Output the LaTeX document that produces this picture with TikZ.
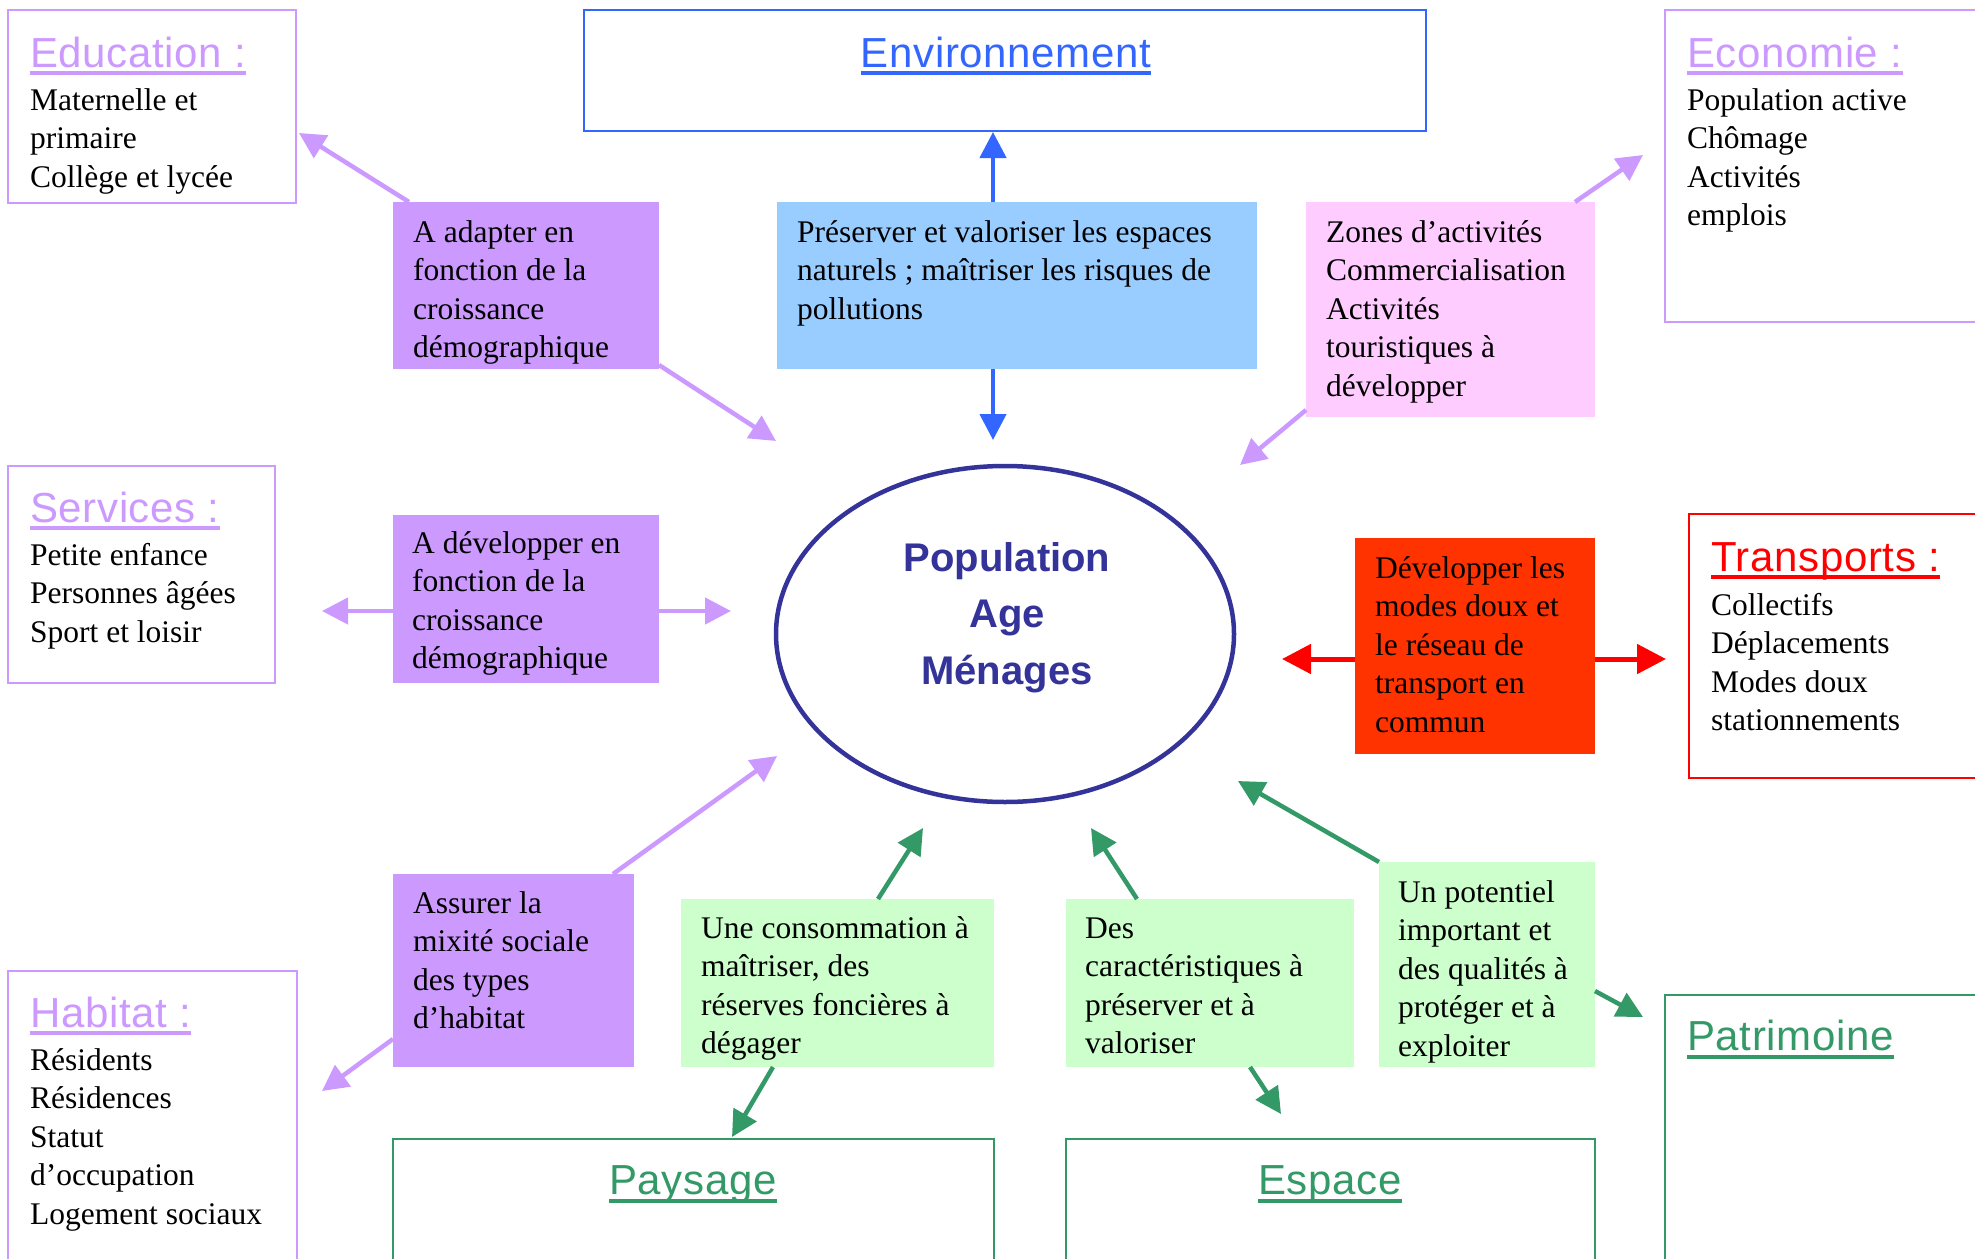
\documentclass[tikz,border=0pt]{standalone}
\usepackage{fontspec}
\setmainfont{Liberation Serif}
\newfontfamily\ttlfont[LetterSpace=1.5]{Liberation Sans}
\newfontfamily\popfont{Liberation Sans}
\usetikzlibrary{arrows.meta,shapes.geometric}
\definecolor{lilac}{HTML}{CC99FF}
\definecolor{envblue}{HTML}{3366FF}
\definecolor{skyfill}{HTML}{99CCFF}
\definecolor{pinkfill}{HTML}{FFCCFF}
\definecolor{redfill}{HTML}{FF3300}
\definecolor{tred}{HTML}{FF0000}
\definecolor{sgreen}{HTML}{339966}
\definecolor{gfill}{HTML}{CCFFCC}
\definecolor{navy}{HTML}{333399}
\newcommand\bxt[1]{\begin{tabular}[t]{@{}l@{}}#1\end{tabular}}
\newcommand\bxc[1]{\begin{tabular}[t]{@{}c@{}}#1\end{tabular}}
\begin{document}
\begin{tikzpicture}[x=1pt,y=-1pt,
  frame/.style={draw=#1, line width=2.5pt, fill=white, anchor=north west, inner sep=0pt, outer sep=0pt},
  fillbox/.style={fill=#1, anchor=north west, inner sep=0pt, outer sep=0pt},
  body/.style={anchor=base west, inner sep=0pt, text=black, font=\fontsize{31.5}{38.5}\selectfont},
  ttl/.style={anchor=base west, inner sep=0pt, text=#1, font=\ttlfont\fontsize{42}{50}\selectfont},
  ttlc/.style={anchor=base, inner sep=0pt, text=#1, font=\ttlfont\fontsize{42}{50}\selectfont},
  uline/.style={draw=#1, line width=3.5pt},
  conn/.style={draw=#1, line width=4.5pt, -{Triangle[length=26pt,width=26pt]}},
  rconn/.style={draw=#1, line width=5pt, -{Triangle[length=29pt,width=29pt]}}
]
\path[use as bounding box] (0,0) rectangle (1975,1258);
\clip (0,0) rectangle (1975,1258);
\fill[white] (0,0) rectangle (1975,1258);

% ---------- boxes ----------
\node[frame=lilac, minimum width=288pt, minimum height=193pt] (educ) at (8,10) {};
\node[frame=envblue, minimum width=842pt, minimum height=121pt] (env) at (584,10) {};
\node[frame=lilac, minimum width=340pt, minimum height=312pt] (eco) at (1665,10) {};
\node[fillbox=lilac, minimum width=266pt, minimum height=167pt] (adapt) at (393,202) {};
\node[fillbox=skyfill, minimum width=480pt, minimum height=167pt] (blue) at (777,202) {};
\node[fillbox=pinkfill, minimum width=289pt, minimum height=215pt] (pink) at (1306,202) {};
\node[frame=lilac, minimum width=267pt, minimum height=217pt] (serv) at (8,466) {};
\node[fillbox=lilac, minimum width=266pt, minimum height=168pt] (dev) at (393,515) {};
\node[draw=navy, line width=4.5pt, ellipse, inner sep=0pt, minimum width=458pt, minimum height=336pt] (pop) at (1005,634) {};
\node[fillbox=redfill, minimum width=240pt, minimum height=216pt] (red) at (1355,538) {};
\node[frame=tred, minimum width=310pt, minimum height=264pt] (trans) at (1689,514) {};
\node[fillbox=lilac, minimum width=241pt, minimum height=193pt] (assur) at (393,874) {};
\node[fillbox=gfill, minimum width=313pt, minimum height=168pt] (gone) at (681,899) {};
\node[fillbox=gfill, minimum width=288pt, minimum height=168pt] (gtwo) at (1066,899) {};
\node[fillbox=gfill, minimum width=216pt, minimum height=205pt] (gthree) at (1379,862) {};
\node[frame=lilac, minimum width=289pt, minimum height=310pt] (hab) at (8,971) {};
\node[frame=sgreen, minimum width=601pt, minimum height=150pt] (pays) at (393,1139) {};
\node[frame=sgreen, minimum width=529pt, minimum height=150pt] (esp) at (1066,1139) {};
\node[frame=sgreen, minimum width=340pt, minimum height=300pt] (patr) at (1665,995) {};

% ---------- titles ----------
\node[ttl=lilac] (tEduc) at (30,67) {Education :};
\draw[uline=lilac] ([yshift=-6pt]tEduc.base west) -- ([yshift=-6pt]tEduc.base east);
\node[ttlc=envblue] (tEnv) at (1006,67) {Environnement};
\draw[uline=envblue] ([yshift=-6pt]tEnv.base west) -- ([yshift=-6pt]tEnv.base east);
\node[ttl=lilac] (tEco) at (1687,67) {Economie :};
\draw[uline=lilac] ([yshift=-6pt]tEco.base west) -- ([yshift=-6pt]tEco.base east);
\node[ttl=lilac] (tServ) at (30,522) {Services :};
\draw[uline=lilac] ([yshift=-6pt]tServ.base west) -- ([yshift=-6pt]tServ.base east);
\node[ttl=tred] (tTrans) at (1711,571) {Transports :};
\draw[uline=tred] ([yshift=-6pt]tTrans.base west) -- ([yshift=-6pt]tTrans.base east);
\node[ttl=lilac] (tHab) at (30,1027) {Habitat :};
\draw[uline=lilac] ([yshift=-6pt]tHab.base west) -- ([yshift=-6pt]tHab.base east);
\node[ttlc=sgreen] (tPays) at (693,1194) {Paysage};
\draw[uline=sgreen] ([yshift=-7pt]tPays.base west) -- ([yshift=-7pt]tPays.base east);
\node[ttlc=sgreen] (tEsp) at (1330,1194) {Espace};
\draw[uline=sgreen] ([yshift=-7pt]tEsp.base west) -- ([yshift=-7pt]tEsp.base east);
\node[ttl=sgreen] (tPatr) at (1687,1050) {Patrimoine};
\draw[uline=sgreen] ([yshift=-7pt]tPatr.base west) -- ([yshift=-7pt]tPatr.base east);

% ---------- body texts ----------
\node[body] (xEduc) at (30,110) {\bxt{Maternelle et\\primaire\\Collège et lycée}};
\node[body] (xEco) at (1687,110) {\bxt{Population active\\Chômage\\Activités\\emplois}};
\node[body] (xAdapt) at (413,242) {\bxt{A adapter en\\fonction de la\\croissance\\démographique}};
\node[body] (xBlue) at (797,242) {\bxt{Préserver et valoriser les espaces\\naturels ; maîtriser les risques de\\pollutions}};
\node[body] (xPink) at (1326,242) {\bxt{Zones d’activités\\Commercialisation\\Activités\\touristiques à\\développer}};
\node[body] (xServ) at (30,565) {\bxt{Petite enfance\\Personnes âgées\\Sport et loisir}};
\node[body] (xDev) at (412,553) {\bxt{A développer en\\fonction de la\\croissance\\démographique}};
\node[body] (xRed) at (1375,578) {\bxt{Développer les\\modes doux et\\le réseau de\\transport en\\commun}};
\node[body] (xTrans) at (1711,615) {\bxt{Collectifs\\Déplacements\\Modes doux\\stationnements}};
\node[body] (xAssur) at (413,913) {\bxt{Assurer la\\mixité sociale\\des types\\d’habitat}};
\node[body] (xHab) at (30,1070) {\bxt{Résidents\\Résidences\\Statut\\d’occupation\\Logement sociaux}};
\node[body] (xGone) at (701,938) {\bxt{Une consommation à\\maîtriser, des\\réserves foncières à\\dégager}};
\node[body] (xGtwo) at (1085,938) {\bxt{Des\\caractéristiques à\\préserver et à\\valoriser}};
\node[body] (xGthree) at (1398,902) {\bxt{Un potentiel\\important et\\des qualités à\\protéger et à\\exploiter}};

\node[anchor=base, inner sep=0pt, text=navy, font=\popfont\bfseries\fontsize{40}{56.5}\selectfont] (xPop) at (1007,571) {\bxc{Population\\Age\\Ménages}};

% ---------- arrow tips ----------
\coordinate (tipEduc) at (299,133);
\coordinate (tipAdaptPop) at (776,441);
\coordinate (tipEnv) at (993,132);
\coordinate (tipBluePop) at (993,440);
\coordinate (tipEco) at (1643,155);
\coordinate (tipPinkPop) at (1240,465);
\coordinate (tipServ) at (322,611);
\coordinate (tipDevPop) at (731,611);
\coordinate (tipAssurPop) at (777,756);
\coordinate (tipHab) at (322,1091);
\coordinate (tipRedPop) at (1282,659);
\coordinate (tipTrans) at (1666,659);
\coordinate (tipGonePop) at (923,828);
\coordinate (tipPays) at (732,1137);
\coordinate (tipGtwoPop) at (1091,828);
\coordinate (tipEsp) at (1281,1114);
\coordinate (tipGthreePop) at (1238,781);
\coordinate (tipPatr) at (1643,1017);

% ---------- connectors ----------
\draw[conn=lilac] ([xshift=16pt]adapt.north west) -- (tipEduc);
\draw[conn=lilac] ([yshift=4pt]adapt.south east) -- (tipAdaptPop);
\draw[conn=envblue] ([xshift=216pt]blue.north west) -- (tipEnv);
\draw[conn=envblue] ([xshift=216pt]blue.south west) -- (tipBluePop);
\draw[conn=lilac] ([xshift=269pt]pink.north west) -- (tipEco);
\draw[conn=lilac] ([yshift=7pt]pink.south west) -- (tipPinkPop);
\draw[conn=lilac] ([yshift=-12pt]dev.west) -- (tipServ);
\draw[conn=lilac] ([yshift=-12pt]dev.east) -- (tipDevPop);
\draw[conn=lilac] ([xshift=220pt]assur.north west) -- (tipAssurPop);
\draw[conn=lilac] ([yshift=28pt]assur.south west) -- (tipHab);
\draw[rconn=tred] ([yshift=-13pt]red.west) -- (tipRedPop);
\draw[rconn=tred] ([yshift=-13pt]red.east) -- (tipTrans);
\draw[conn=sgreen] ([xshift=197pt]gone.north west) -- (tipGonePop);
\draw[conn=sgreen] ([xshift=92pt]gone.south west) -- (tipPays);
\draw[conn=sgreen] ([xshift=71pt]gtwo.north west) -- (tipGtwoPop);
\draw[conn=sgreen] ([xshift=184pt]gtwo.south west) -- (tipEsp);
\draw[conn=sgreen] (gthree.north west) -- (tipGthreePop);
\draw[conn=sgreen] ([yshift=76pt]gthree.south east) -- (tipPatr);
\end{tikzpicture}
\end{document}
